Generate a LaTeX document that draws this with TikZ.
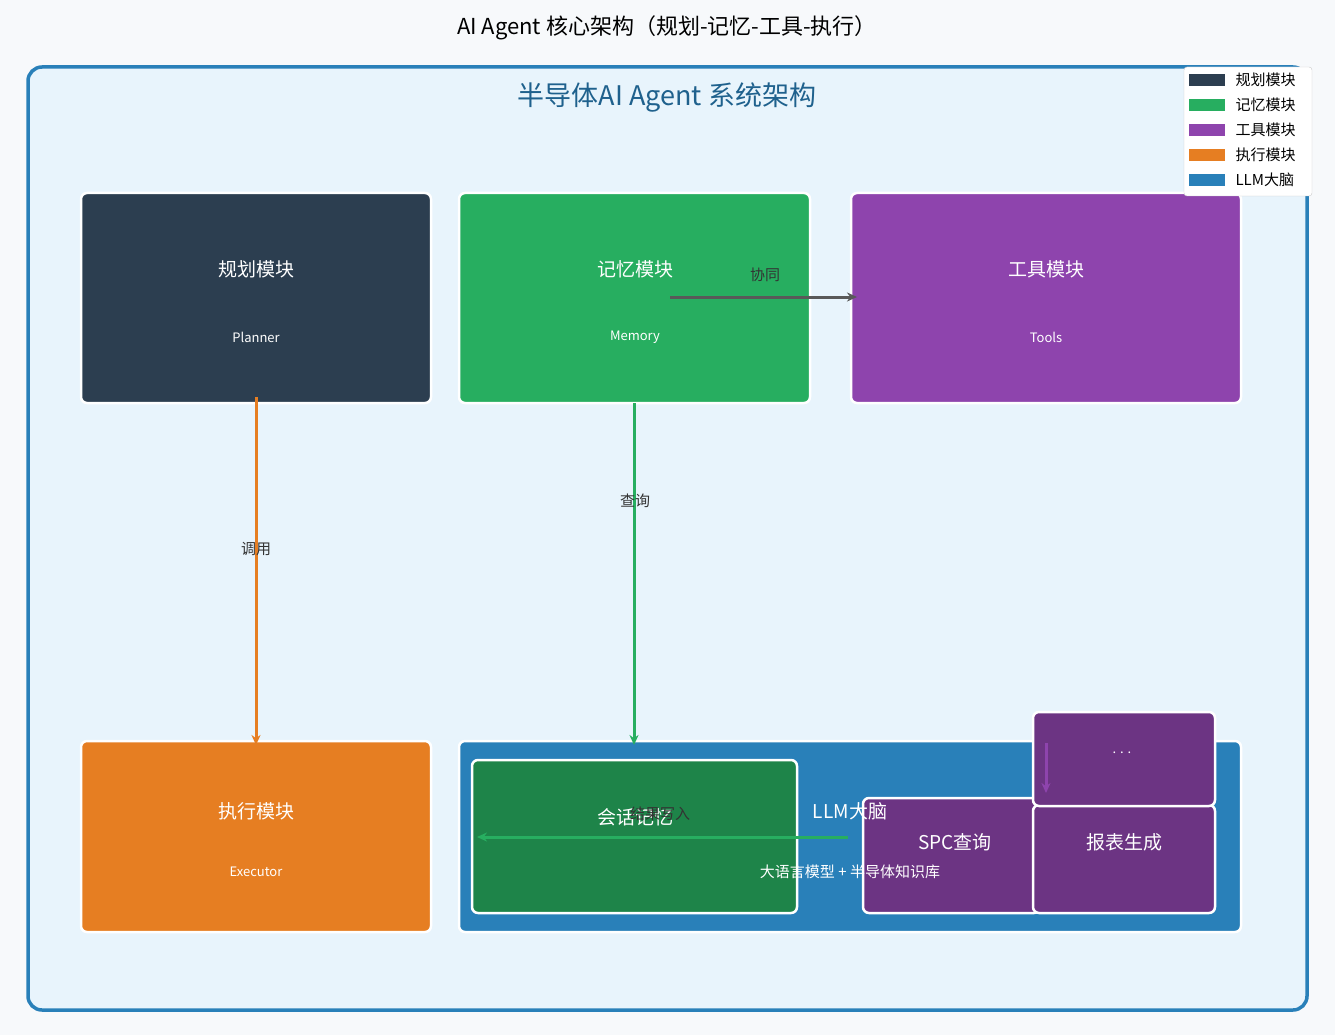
\documentclass[tikz,border=0pt]{standalone}
\usepackage{fontspec}
\setmainfont{Noto Sans CJK SC}
\usetikzlibrary{arrows.meta}
\definecolor{bg}{HTML}{F7F9FB}
\definecolor{panel}{HTML}{E8F4FC}
\definecolor{pblue}{HTML}{2980B9}
\definecolor{cplan}{HTML}{2C3E50}
\definecolor{cmem}{HTML}{27AE60}
\definecolor{ctool}{HTML}{8E44AD}
\definecolor{cexec}{HTML}{E67E22}
\definecolor{csess}{HTML}{1E8449}
\definecolor{cdark}{HTML}{6C3483}
\definecolor{ctitle}{HTML}{1F618D}
\begin{document}
\begin{tikzpicture}[x=1pt,y=-1pt,
 box/.style={draw=white,line width=2.5pt,rounded corners=6pt},
 big/.style={text=white,font=\fontsize{19}{19}\selectfont},
 small/.style={text=white,font=\fontsize{13}{13}\selectfont},
 lab/.style={text=black!80,font=\fontsize{15}{15}\selectfont},
 arr/.style={line width=3pt,-{Stealth[length=10pt,width=9pt]}},
 leg/.style={font=\fontsize{15}{15}\selectfont,anchor=west}]
\fill[bg] (0,0) rectangle (1335,1035);
\useasboundingbox (0,0) rectangle (1335,1035);
\node (title) at (667,28) {\fontsize{22}{22}\selectfont AI Agent 核心架构（规划-记忆-工具-执行）};
\draw[pblue,fill=panel,line width=3.5pt,rounded corners=14pt] (28,67) rectangle (1307,1010);
\node[text=ctitle] (sub) at (667,97) {\fontsize{27}{27}\selectfont 半导体AI Agent 系统架构};
% boxes
\draw[box,fill=cplan] (81,193) rectangle (431,403);
\node[big] (plan) at (256,269) {规划模块};
\node[small] (planE) at (256,337) {Planner};
\draw[box,fill=cmem] (459,193) rectangle (810,403);
\node[big] (mem) at (635,269) {记忆模块};
\node[small] (memE) at (635,337) {Memory};
\draw[box,fill=ctool] (851,193) rectangle (1241,403);
\node[big] (tool) at (1046,269) {工具模块};
\node[small] (toolE) at (1046,337) {Tools};
\draw[box,fill=cexec] (81,741) rectangle (431,932);
\node[big] (exec) at (256,811) {执行模块};
\node[small] (execE) at (256,872) {Executor};
\draw[box,fill=pblue] (459,741) rectangle (1241,932);
\draw[box,fill=csess] (472,760) rectangle (797,913);
\node[big] (sess) at (635,817) {会话记忆};
\draw[box,fill=cdark] (863,798) rectangle (1040,913);
\node[big] (spc) at (955,842) {SPC查询};
\draw[box,fill=cdark] (1033,805) rectangle (1215,913);
\node[big] (rep) at (1124,842) {报表生成};
\draw[box,fill=cdark] (1033,712) rectangle (1215,806);
\node[small] (dots) at (1122,753) {. . .};
\node[big] (llm) at (850,811) {LLM大脑};
\node[text=white,font=\fontsize{15}{15}\selectfont] (llmE) at (850,872) {大语言模型 + 半导体知识库};
% arrows
\coordinate (a1) at (256,397); \coordinate (a2) at (256,745);
\draw[arr,cexec] (a1) -- (a2);
\node[lab] (l1) at (256,549) {调用};
\coordinate (b1) at (634,403); \coordinate (b2) at (634,745);
\draw[arr,cmem] (b1) -- (b2);
\node[lab] (l2) at (635,501) {查询};
\coordinate (c1) at (670,297); \coordinate (c2) at (857,297);
\draw[arr,black!65] (c1) -- (c2);
\node[lab] (l3) at (765,275) {协同};
\coordinate (d1) at (848,837); \coordinate (d2) at (477,837);
\draw[arr,cmem] (d1) -- (d2);
\node[lab] (l4) at (660,814) {结果写入};
\coordinate (e1) at (1046,743); \coordinate (e2) at (1046,793);
\draw[arr,ctool] (e1) -- (e2);
% legend
\draw[black!20,fill=white,rounded corners=3pt] (1184,67) rectangle (1312,196);
\foreach \y/\c/\t [count=\i] in {80/cplan/规划模块,105/cmem/记忆模块,130/ctool/工具模块,155/cexec/执行模块,180/pblue/LLM大脑}{
 \fill[\c] (1189,\y-6) rectangle (1225,\y+6);
 \node[leg] (leg\i) at (1232,\y) {\t};
}
\end{tikzpicture}
\end{document}
